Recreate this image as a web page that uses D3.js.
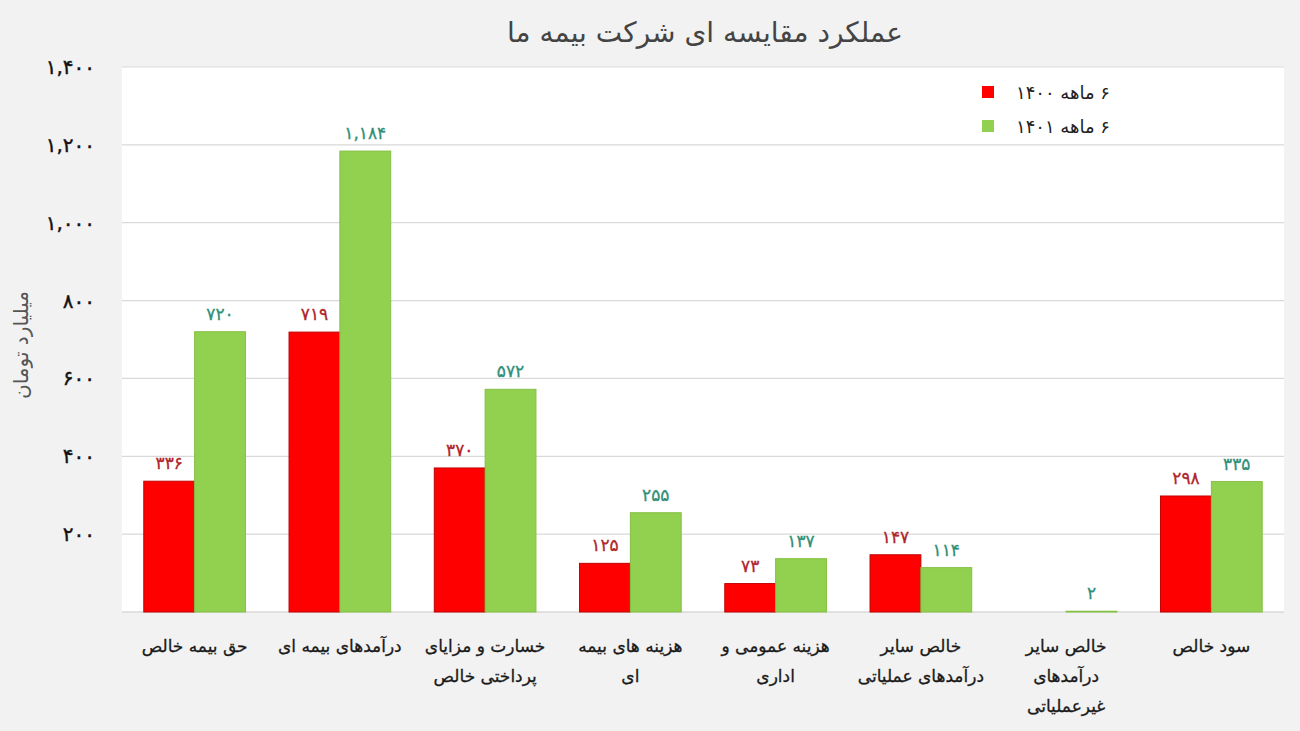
<!DOCTYPE html>
<html>
<head>
<meta charset="utf-8">
<script src="https://cdn.jsdelivr.net/npm/d3@7"></script>
<style>
  body { margin: 0; background: #f2f2f2; }
  svg { display: block; font-family: "DejaVu Sans", sans-serif; }
</style>
</head>
<body>
<svg id="chart" width="1300" height="731"></svg>
<script>
// categories (line breaks as in the picture)
var categories = [
  ["حق بیمه خالص"],
  ["درآمدهای بیمه ای"],
  ["خسارت و مزایای", "پرداختی خالص"],
  ["هزینه های بیمه", "ای"],
  ["هزینه عمومی و", "اداری"],
  ["خالص سایر", "درآمدهای عملیاتی"],
  ["خالص سایر", "درآمدهای", "غیرعملیاتی"],
  ["سود خالص"]
]
var values1400 = [336, 719, 370, 125, 73, 147, null, 298]
var values1401 = [720, 1184, 572, 255, 137, 114, 2, 335]
var seriesNames = ["۶ ماهه ۱۴۰۰", "۶ ماهه ۱۴۰۱"]
var yTicks = [200, 400, 600, 800, 1000, 1200, 1400]
var title = "عملکرد مقایسه ای شرکت بیمه ما"
var yTitle = "میلیارد تومان"

var colors = ["#ff0000", "#92d050"]
var strokes = ["#c00000", "#84c043"]
var labelColors = ["#b0242a", "#2f8f78"]

// اعداد فارسی
function fa(n){
  var s = d3.format(",")(n)
  return s.replace(/[0-9]/g, function(d){ return "۰۱۲۳۴۵۶۷۸۹"[+d] })
}

var svg = d3.select("#chart")
var margin = { left: 122, right: 16, top: 67, bottom: 119 }
var width = 1300 - margin.left - margin.right,
    height = 731 - margin.top - margin.bottom

var x = d3.scaleBand().domain(d3.range(categories.length)).range([0, width]).paddingInner(0.3).paddingOuter(0.15)
var x1 = d3.scaleBand().domain([0, 1]).range([0, x.bandwidth()])
var y = d3.scaleLinear().domain([0, 1400]).range([height, 0])

svg.append("text")
  .attr("x", 705).attr("y", 42)
  .attr("text-anchor", "middle")
  .attr("direction", "rtl")
  .attr("font-size", 28)
  .attr("fill", "#444")
  .text(title)

var g = svg.append("g").attr("transform", "translate(" + margin.left + "," + margin.top + ")")

g.append("rect").attr("width", width).attr("height", height).attr("fill", "#fff")

// grid
g.selectAll(".grid").data(yTicks).enter().append("line")
  .attr("x1", 0).attr("x2", width)
  .attr("y1", function(d){ return y(d) }).attr("y2", function(d){ return y(d) })
  .attr("stroke", "#d9d9d9").attr("stroke-width", 1.2)

g.append("line").attr("x1", 0).attr("x2", width).attr("y1", height).attr("y2", height)
  .attr("stroke", "#d9d9d9").attr("stroke-width", 1.5)

// y ticks
svg.selectAll(".ytick").data(yTicks).enter().append("text")
  .attr("x", 95)
  .attr("y", function(d){ return margin.top + y(d) + 7 })
  .attr("text-anchor", "end")
  .attr("font-size", 20)
  .attr("fill", "#111")
  .attr("stroke", "#111").attr("stroke-width", 0.4)
  .text(function(d){ return fa(d) })

svg.append("text")
  .attr("transform", "translate(28,345) rotate(-90)")
  .attr("text-anchor", "middle")
  .attr("direction", "rtl")
  .attr("font-size", 20)
  .attr("fill", "#555")
  .text(yTitle)

var series = [values1400, values1401]

series.forEach(function(vals, si){
  var data = vals.map(function(v, i){ return { i: i, v: v } }).filter(function(d){ return d.v != null })

  g.selectAll(".bar" + si).data(data).enter().append("rect")
    .attr("x", function(d){ return x(d.i) + x1(si) })
    .attr("y", function(d){ return y(d.v) })
    .attr("width", x1.bandwidth())
    .attr("height", function(d){ return height - y(d.v) })
    .attr("fill", colors[si])
    .attr("stroke", strokes[si])
    .attr("stroke-width", 1)

  g.selectAll(".lbl" + si).data(data).enter().append("text")
    .attr("x", function(d){ return x(d.i) + x1(si) + x1.bandwidth() / 2 })
    .attr("y", function(d){ return y(d.v) - 12 })
    .attr("text-anchor", "middle")
    .attr("font-size", 17)
    .attr("fill", labelColors[si])
    .attr("stroke", labelColors[si]).attr("stroke-width", 0.3)
    .text(function(d){ return fa(d.v) })
})

// category labels
var cat = g.selectAll(".cat").data(categories).enter().append("text")
  .attr("text-anchor", "middle")
  .attr("direction", "rtl")
  .attr("font-size", 17)
  .attr("fill", "#1a1a1a")
  .attr("stroke", "#1a1a1a").attr("stroke-width", 0.3)

cat.selectAll("tspan").data(function(d, i){ return d.map(function(s){ return { s: s, i: i } }) })
  .enter().append("tspan")
  .attr("x", function(d){ return x(d.i) + x.bandwidth() / 2 })
  .attr("y", function(d, j){ return height + 40 + j * 30 })
  .text(function(d){ return d.s })

// legend
var legend = svg.append("g")
seriesNames.forEach(function(name, i){
  legend.append("rect")
    .attr("x", 982).attr("y", 86 + i * 34)
    .attr("width", 12).attr("height", 12)
    .attr("fill", colors[i])
  legend.append("text")
    .attr("x", 1063).attr("y", 99 + i * 34)
    .attr("text-anchor", "middle")
    .attr("direction", "rtl")
    .attr("font-size", 18)
    .attr("fill", "#222")
    .text(name)
})
</script>
</body>
</html>
